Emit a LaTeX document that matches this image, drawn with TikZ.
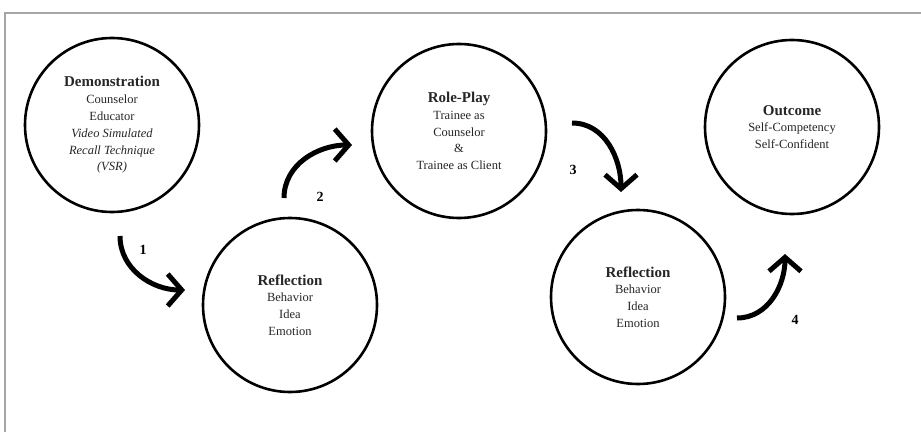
\documentclass[tikz,border=0pt]{standalone}
\usepackage{fontspec}
\setmainfont{Liberation Serif}
\usetikzlibrary{arrows.meta}
\newcommand{\ttl}[1]{{\fontsize{15}{18}\selectfont\bfseries #1}}

\begin{document}
\begin{tikzpicture}[x=1pt, y=1pt,
    stage/.style={circle, draw, line width=2.6pt, minimum size=174pt, inner sep=0pt,
        align=center, font=\fontsize{12.5}{16.8}\selectfont, text=black!85},
    flow/.style={line width=5pt, -{Straight Barb[length=14pt, width=32pt]}},
    num/.style={font=\fontsize{14}{16}\selectfont\bfseries}]
    \useasboundingbox (0,0) rectangle (921,432);
    % frame
    \draw[black!35, line width=2.4pt] (5,0) -- (5,419) -- (921,419);

    % stages
    \node[stage] (demo) at (112,307) {\ttl{Demonstration}\\Counselor\\Educator\\
        \textit{Video Simulated}\\\textit{Recall Technique}\\\textit{(VSR)}};
    \node[stage] (refl1) at (290,127) {\ttl{Reflection}\\Behavior\\Idea\\Emotion};
    \node[stage] (role) at (459,301) {\ttl{Role-Play}\\Trainee as\\Counselor\\\&\\Trainee as Client};
    \node[stage] (refl2) at (638,135) {\ttl{Reflection}\\Behavior\\Idea\\Emotion};
    \node[stage] (outc) at (792,305) {\ttl{Outcome}\\Self-Competency\\Self-Confident};

    % arrows
    \coordinate (a1s) at (120,196);
    \coordinate (a1e) at (185,142);
    \coordinate (a2s) at (284,234);
    \coordinate (a2e) at (352,287);
    \coordinate (a3s) at (572,309);
    \coordinate (a3e) at (621,240);
    \coordinate (a4s) at (737,114);
    \coordinate (a4e) at (785,178);
    \foreach \n/\o/\i in {1/-90/180, 2/90/180, 3/0/90, 4/0/-90} {
        \draw[flow] (a\n s) to[out=\o, in=\i] (a\n e);
    }
    \node[num] (n1) at (143,182) {1};
    \node[num] (n2) at (320,235) {2};
    \node[num] (n3) at (573,262) {3};
    \node[num] (n4) at (795,112) {4};
\end{tikzpicture}
\end{document}
